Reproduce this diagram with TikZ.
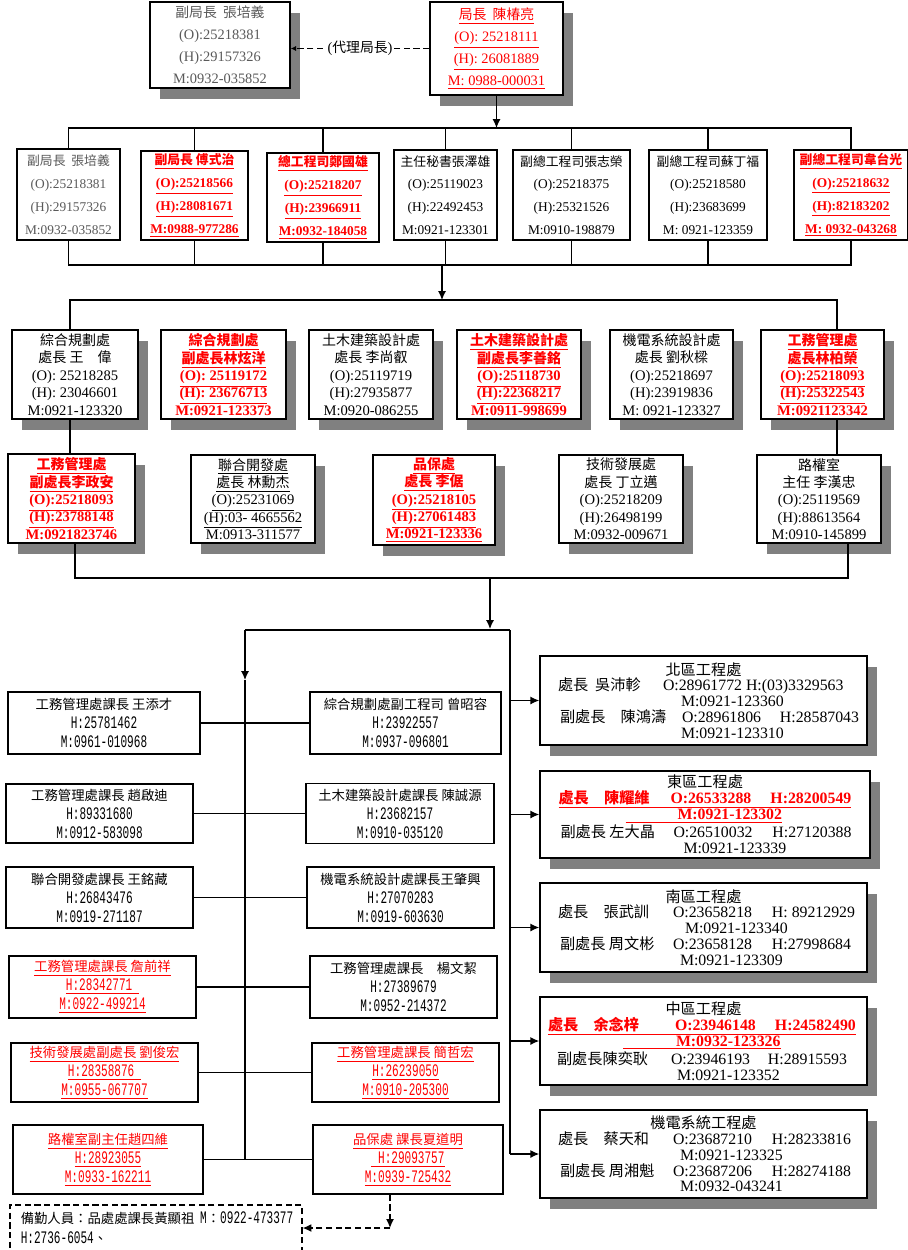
\documentclass[tikz,border=0pt]{standalone}
\usepackage{fontspec}
\setmainfont{Liberation Serif}
\newfontfamily\cjk[Scale=0.96]{Noto Sans CJK TC}
\newfontfamily\cjklow[Scale=0.76]{Noto Sans CJK TC}
\newfontfamily\monofnt[FakeStretch=0.63]{Liberation Mono}
\newcommand\zh[1]{{\cjk #1}}
\newcommand\zhl[1]{{\cjklow #1}}
\newcommand\uln[1]{\underline{#1}}
\newcommand\distline[1]{\makebox[6.3cm][l]{#1}}
\usetikzlibrary{arrows.meta,shadows}
\tikzset{
  box/.style={draw, line width=0.9pt, fill=white, inner sep=1pt, align=center},
  shbox/.style={box, drop shadow={shadow xshift=0.2cm, shadow yshift=-0.22cm, fill=black!50, opacity=1}},
  toptxt/.style={font=\fontsize{8.2}{12.5}\selectfont},
  rtwo/.style={font=\fontsize{7.6}{13}\selectfont},
  rtwob/.style={font=\fontsize{7.6}{13}\selectfont\bfseries},
  rthree/.style={font=\fontsize{8.3}{9.9}\selectfont},
  rthreeb/.style={font=\fontsize{8.3}{9.9}\selectfont\bfseries},
  redtxt/.style={text=red},
  greytxt/.style={text=black!65},
  lowbox/.style={box, font=\monofnt\fontsize{10}{10.8}\selectfont},
  distbox/.style={shbox, font=\fontsize{9}{9}\selectfont, minimum width=6.54cm, minimum height=1.78cm},
  link/.style={line width=0.7pt},
  dashlink/.style={line width=0.8pt, dash pattern=on 3.5pt off 2pt}
}
\begin{document}
\begin{tikzpicture}[x=0.02cm,y=-0.02cm,>={Latex[length=5pt,width=4.5pt]}]
\useasboundingbox (0,0) rectangle (908,1250);
\clip (0,0) rectangle (908,1250);

\node[shbox,toptxt,greytxt,minimum width=2.8cm,minimum height=1.72cm] (dep) at (220,45) {\zh{副局長\ \ 張培義}\\(O):25218381\\(H):29157326\\M:0932-035852};
\node[shbox,toptxt,redtxt,minimum width=2.66cm,minimum height=1.86cm] (dir) at (496.5,48.5) {\uln{\zh{局長\ \ 陳椿亮}}\\\uln{(O): 25218111}\\\uln{(H): 26081889}\\\uln{M: 0988-000031}};
\draw[dashlink,-{Latex[length=3pt,width=3pt]}] (dir.west) -- node[fill=white,inner sep=1pt,font=\fontsize{8.2}{10}\selectfont] (actlab) {(\zh{代理局長})} (dir.west -| dep.east);

\node[box,rtwo,greytxt,minimum width=2.06cm,minimum height=1.82cm] (b1) at (68.5,194.5) {\zh{副局長\ \ 張培義}\\(O):25218381\\(H):29157326\\M:0932-035852};
\node[box,rtwob,redtxt,minimum width=2.14cm,minimum height=1.78cm] (b2) at (194.5,195.5) {\uln{\zh{副局長\ 傅式治}}\\\uln{(O):25218566}\\\uln{(H):28081671}\\\uln{M:0988-977286}};
\node[box,rtwob,redtxt,minimum width=2.24cm,minimum height=1.78cm] (b3) at (323,197.5) {\uln{\zh{總工程司鄭國雄}}\\\uln{(O):25218207}\\\uln{(H):23966911}\\\uln{M:0932-184058}};
\node[box,rtwo,minimum width=2.06cm,minimum height=1.8cm] (b4) at (445.5,195) {\zh{主任秘書張澤雄}\\(O):25119023\\(H):22492453\\M:0921-123301};
\node[box,rtwo,minimum width=2.34cm,minimum height=1.8cm] (b5) at (571.5,195) {\zh{副總工程司張志榮}\\(O):25218375\\(H):25321526\\M:0910-198879};
\node[box,rtwo,minimum width=2.36cm,minimum height=1.8cm] (b6) at (708,195) {\zh{副總工程司蘇丁福}\\(O):25218580\\(H):23683699\\M: 0921-123359};
\node[box,rtwob,redtxt,minimum width=2.28cm,minimum height=1.8cm] (b7) at (851,195) {\uln{\zh{副總工程司韋台光}}\\\uln{(O):25218632}\\\uln{(H):82183202}\\\uln{M: 0932-043268}};

\coordinate (bus1) at (0,128);
\coordinate (bus2) at (442,265);
\coordinate (bus3) at (442,300);
\coordinate (bus3l) at (70,300);
\coordinate (bus3r) at (837,300);
\draw[link,->] (dir.south) -- (dir.south |- bus1);
\draw[link] (b1.north) -- (b1.north |- bus1) -| (b7.north);
\foreach \n in {b2,b3,b4,b5,b6} \draw[link] (\n.north) -- (\n.north |- bus1);
\draw[link] (b1.south) |- (bus2) -| (b7.south);
\foreach \n in {b2,b3,b4,b5,b6} \draw[link] (\n.south) -- (\n.south |- bus2);
\draw[link,->] (bus2) -- (bus3);

\node[shbox,rthree,minimum width=2.52cm,minimum height=1.78cm] (r3a) at (75,374.5) {\zh{綜合規劃處}\\\zh{處長\ 王\quad 偉}\\(O): 25218285\\(H): 23046601\\M:0921-123320};
\node[shbox,rthreeb,redtxt,minimum width=2.5cm,minimum height=1.78cm] (r3b) at (223.5,374.5) {\uln{\zh{綜合規劃處}}\\\uln{\zh{副處長林炫洋}}\\\uln{(O): 25119172}\\\uln{(H): 23676713}\\M:0921-123373};
\node[shbox,rthree,minimum width=2.48cm,minimum height=1.78cm] (r3c) at (371,374.5) {\zh{土木建築設計處}\\\zh{處長\ 李尚叡}\\(O):25119719\\(H):27935877\\M:0920-086255};
\node[shbox,rthreeb,redtxt,minimum width=2.48cm,minimum height=1.78cm] (r3d) at (519,374.5) {\uln{\zh{土木建築設計處}}\\\uln{\zh{副處長李善銘}}\\\uln{(O):25118730}\\\uln{(H):22368217}\\M:0911-998699};
\node[shbox,rthree,minimum width=2.46cm,minimum height=1.78cm] (r3e) at (671.5,374.5) {\zh{機電系統設計處}\\\zh{處長\ 劉秋樑}\\(O):25218697\\(H):23919836\\M: 0921-123327};
\node[shbox,rthreeb,redtxt,minimum width=2.46cm,minimum height=1.78cm] (r3f) at (822.5,374.5) {\uln{\zh{工務管理處}}\\\uln{\zh{處長林柏榮}}\\\uln{(O):25218093}\\\uln{(H):25322543}\\M:0921123342};

\node[shbox,rthreeb,redtxt,minimum width=2.54cm,minimum height=1.78cm] (r4a) at (71.5,498.5) {\uln{\zh{工務管理處}}\\\uln{\zh{副處長李政安}}\\\uln{(O):25218093}\\\uln{(H):23788148}\\M:0921823746};
\node[shbox,rthree,minimum width=2.48cm,minimum height=1.76cm] (r4b) at (253,499) {\uln{\zh{聯合開發處}}\\\uln{\zh{處長\ 林勳杰}}\\\uln{(O):25231069}\\\uln{(H):03- 4665562}\\M:0913-311577};
\node[shbox,rthreeb,redtxt,minimum width=2.44cm,minimum height=1.8cm] (r4c) at (434,500) {\uln{\zh{品保處}}\\\uln{\zh{處長\ 李倨}}\\\uln{(O):25218105}\\\uln{(H):27061483}\\\uln{M:0921-123336}};
\node[shbox,rthree,minimum width=2.48cm,minimum height=1.76cm] (r4d) at (621,499) {\zh{技術發展處}\\\zh{處長\ 丁立邁}\\(O):25218209\\(H):26498199\\M:0932-009671};
\node[shbox,rthree,minimum width=2.48cm,minimum height=1.76cm] (r4e) at (819,499) {\zh{路權室}\\\zh{主任\ 李漢忠}\\(O):25119569\\(H):88613564\\M:0910-145899};

\draw[link] (r3a.north -| bus3l) -- (bus3l) -- (bus3r) -- (r3f.north -| bus3r);
\draw[link] (r3a.south -| bus3l) -- (r4a.north -| bus3l);
\draw[link] (r3f.south -| bus3r) -- (r4e.north -| bus3r);

\coordinate (bus4) at (490,578);
\coordinate (bus4l) at (75,578);
\coordinate (bus4r) at (848,578);
\coordinate (bus5) at (490,629);
\coordinate (trunkL) at (245,630);
\coordinate (trunkR) at (510,630);
\coordinate (midL) at (245,680);
\draw[link] (r4a.south -| bus4l) -- (bus4l) -- (bus4r) -- (r4e.south -| bus4r);
\draw[link,->] (bus4) -- (bus5);
\draw[link] (trunkL) -- (trunkR);

\node[lowbox,minimum width=3.84cm,minimum height=1.24cm] (la) at (104,723) {\zhl{工務管理處課長\ 王添才}\\H:25781462\\M:0961-010968};
\node[lowbox,minimum width=3.82cm,minimum height=1.24cm] (ra) at (405.5,723) {\zhl{綜合規劃處副工程司\ 曾昭容}\\H:23922557\\M:0937-096801};
\node[lowbox,minimum width=3.74cm,minimum height=1.18cm] (lb) at (99.5,813.5) {\zhl{工務管理處課長\ 趙啟迪}\\H:89331680\\M:0912-583098};
\node[lowbox,minimum width=3.76cm,minimum height=1.2cm] (rb) at (400,813.5) {\zhl{土木建築設計處課長\ 陳誠源}\\H:23682157\\M:0910-035120};
\node[lowbox,minimum width=3.74cm,minimum height=1.22cm] (lc) at (99.5,897.5) {\zhl{聯合開發處課長\ 王銘藏}\\H:26843476\\M:0919-271187};
\node[lowbox,minimum width=3.74cm,minimum height=1.22cm] (rc) at (400.5,897.5) {\zhl{機電系統設計處課長王肇興}\\H:27070283\\M:0919-603630};
\node[lowbox,redtxt,minimum width=3.74cm,minimum height=1.24cm] (ld) at (102.5,987) {\uln{\zhl{工務管理處課長\ 詹前祥}}\\\uln{H:28342771\ }\\\uln{M:0922-499214}};
\node[lowbox,minimum width=3.74cm,minimum height=1.24cm] (rd) at (403.5,987) {\zhl{工務管理處課長\quad 楊文絜}\\H:27389679\\M:0952-214372};
\node[lowbox,redtxt,minimum width=3.74cm,minimum height=1.18cm] (le) at (104.5,1072.5) {\uln{\zhl{技術發展處副處長\ 劉俊宏}}\\\uln{H:28358876\ }\\\uln{M:0955-067707}};
\node[lowbox,redtxt,minimum width=3.74cm,minimum height=1.18cm] (re) at (405.5,1072.5) {\uln{\zhl{工務管理處課長\ 簡哲宏}}\\\uln{H:26239050}\\\uln{M:0910-205300}};
\node[lowbox,redtxt,minimum width=3.8cm,minimum height=1.38cm] (lf) at (108,1159.5) {\uln{\zhl{路權室副主任趙四維}}\\\uln{H:28923055}\\\uln{M:0933-162211}};
\node[lowbox,redtxt,minimum width=3.8cm,minimum height=1.38cm] (rf) at (408,1159.5) {\uln{\zhl{品保處\ 課長夏道明}}\\\uln{\ H:29093757}\\\uln{M:0939-725432}};

\draw[link,->] (trunkL) -- (midL);
\draw[link] (midL) -- (trunkL |- lf.east);
\foreach \r in {a,b,c,d,e,f} \draw[link] (l\r.east) -- (r\r.west);

\node[box,dashlink,line width=0.9pt,font=\monofnt\fontsize{10}{11.5}\selectfont,text width=5.6cm,inner xsep=0.12cm,align=left,minimum height=0.92cm,anchor=north west] (stby) at (9,1204) {\hspace*{0.1cm}\zhl{備勤人員：品處處課長黃顯祖}\ M\zhl{：}0922-473377\\\hspace*{0.1cm}H:2736-6054\zhl{、}};
\coordinate (stbyturn) at (390,1228);
\draw[dashlink,->] (rf.south -| stbyturn) -- (stbyturn);
\draw[dashlink,->] (stbyturn) -- (stbyturn -| stby.east);

\node[distbox] (d1) at (703.5,700.5) {\makebox[6.3cm]{\zh{北區工程處}}\\
\distline{\hspace*{0.24cm}\makebox[2.1cm][l]{\zh{處長\ \ 吳沛軫}}O:28961772 H:(03)3329563}\\
\distline{\hspace*{2.7cm}M:0921-123360}\\
\distline{\hspace*{0.28cm}\makebox[2.44cm][l]{\zh{副處長\quad 陳鴻濤}}\makebox[1.96cm][l]{O:28961806}H:28587043}\\
\distline{\hspace*{2.7cm}M:0921-123310}};
\node[distbox,minimum width=6.6cm,minimum height=1.74cm] (d2) at (705,814.5) {\makebox[6.3cm]{\zh{東區工程處}}\\
\distline{\color{red}\bfseries\hspace*{0.22cm}\uln{\makebox[2.24cm][l]{\zh{處長\quad 陳耀維}}\makebox[2.0cm][l]{O:26533288}H:28200549}}\\
\distline{\color{red}\bfseries\hspace*{1.56cm}\uln{\hspace*{1.04cm}M:0921-123302}}\\
\distline{\hspace*{0.26cm}\makebox[2.26cm][l]{\zh{副處長\ 左大晶}}\makebox[1.98cm][l]{O:26510032}H:27120388}\\
\distline{\hspace*{2.72cm}M:0921-123339}};
\node[distbox] (d3) at (703.5,927.5) {\makebox[6.3cm]{\zh{南區工程處}}\\
\distline{\hspace*{0.24cm}\makebox[2.3cm][l]{\zh{處長\quad 張武訓}}\makebox[1.98cm][l]{O:23658218}H: 89212929}\\
\distline{\hspace*{2.78cm}M:0921-123340}\\
\distline{\hspace*{0.28cm}\makebox[2.26cm][l]{\zh{副處長\ 周文彬}}\makebox[1.98cm][l]{O:23658128}H:27998684}\\
\distline{\hspace*{2.68cm}M:0921-123309}};
\node[distbox,minimum height=1.76cm] (d4) at (703.5,1041) {\makebox[6.3cm]{\zh{中區工程處}}\\
\distline{\color{red}\bfseries\hspace*{0.04cm}\uln{\makebox[2.54cm][l]{\zh{處長\quad 余念梓}}\makebox[2.0cm][l]{O:23946148}H:24582490}}\\
\distline{\color{red}\bfseries\hspace*{1.54cm}\uln{\hspace*{1.06cm}M:0932-123326}}\\
\distline{\hspace*{0.22cm}\makebox[2.28cm][l]{\zh{副處長陳奕耿}}\makebox[1.94cm][l]{O:23946193}H:28915593}\\
\distline{\hspace*{2.62cm}M:0921-123352}};
\node[distbox,minimum height=1.76cm] (d5) at (703.5,1154) {\makebox[6.3cm]{\zh{機電系統工程處}}\\
\distline{\hspace*{0.24cm}\makebox[2.3cm][l]{\zh{處長\quad 蔡天和}}\makebox[1.98cm][l]{O:23687210}H:28233816}\\
\distline{\hspace*{2.68cm}M:0921-123325}\\
\distline{\hspace*{0.28cm}\makebox[2.26cm][l]{\zh{副處長\ 周湘魁}}\makebox[1.98cm][l]{O:23687206}H:28274188}\\
\distline{\hspace*{2.68cm}M:0932-043241}};

\draw[link] (trunkR) -- (trunkR |- d5.west);
\foreach \d in {d1,d2,d3,d4,d5} \draw[link,->] (trunkR |- \d.west) -- (\d.west);
\end{tikzpicture}
\end{document}
